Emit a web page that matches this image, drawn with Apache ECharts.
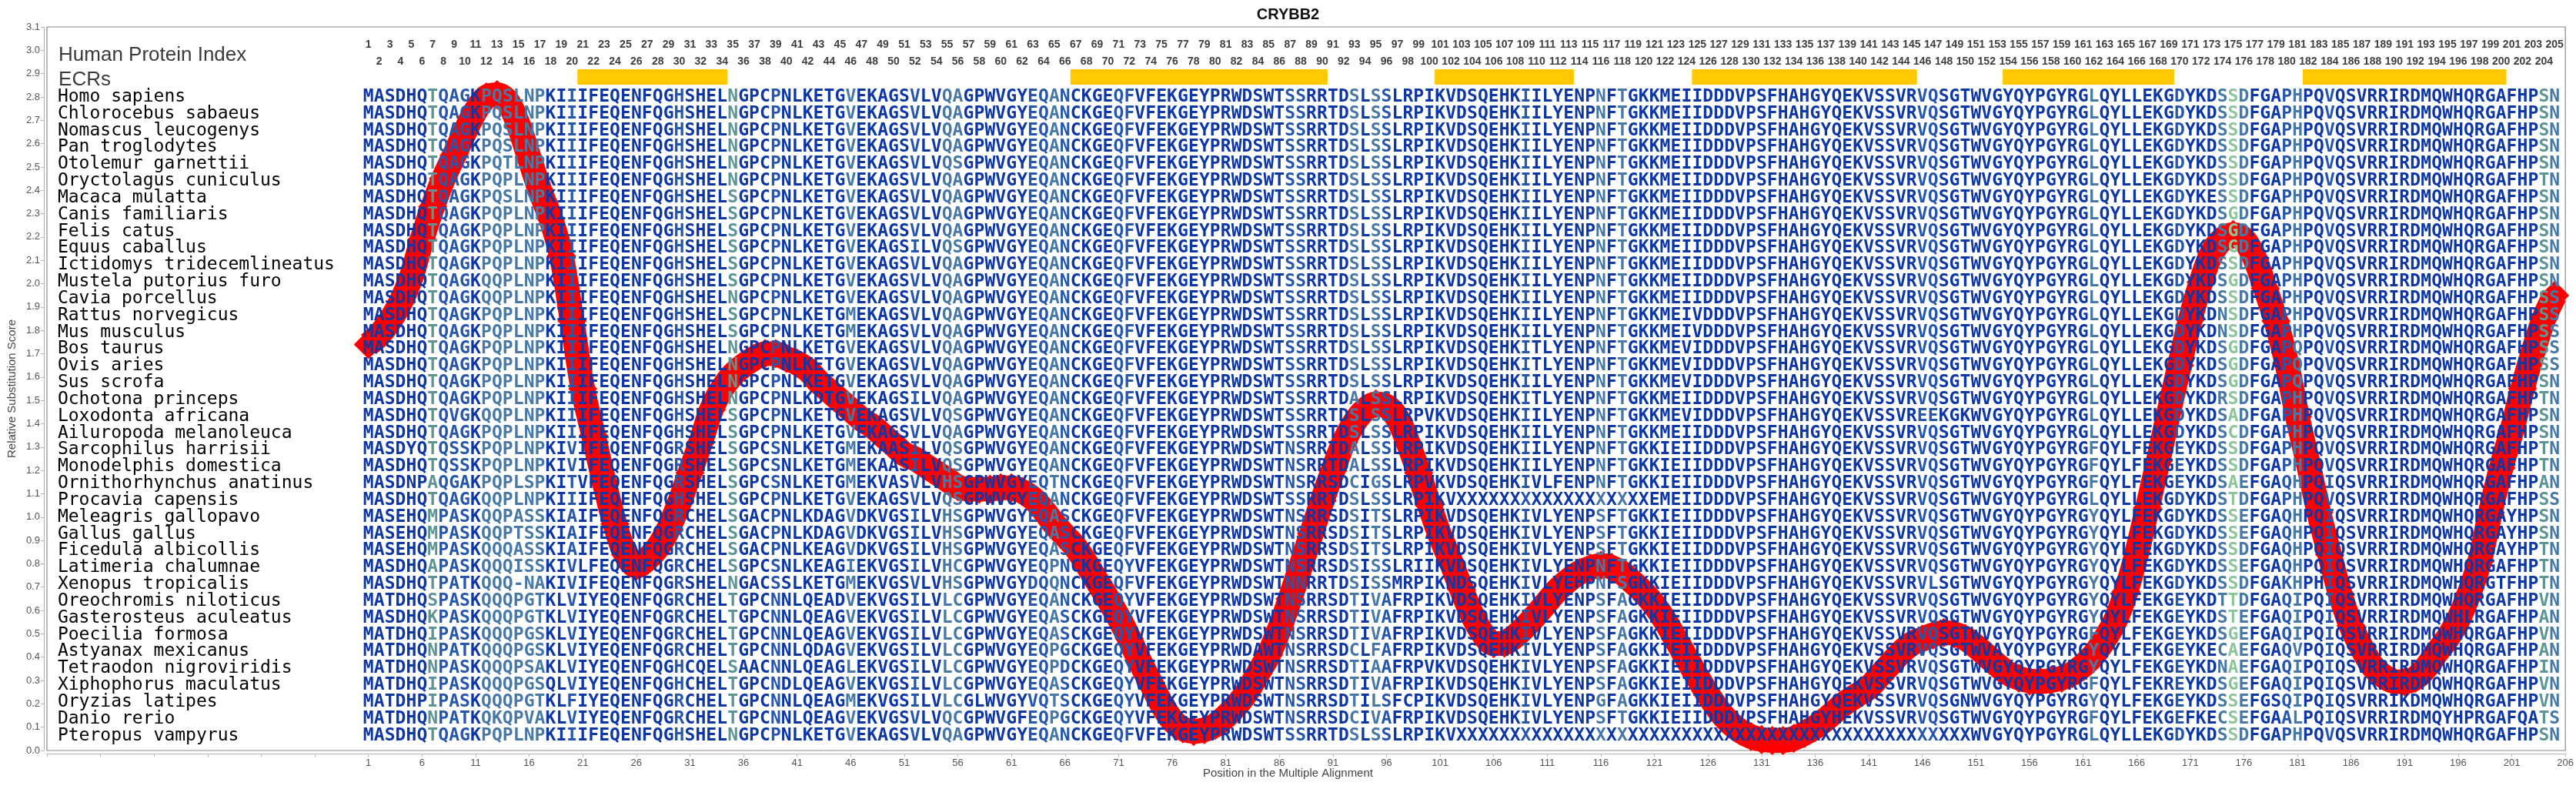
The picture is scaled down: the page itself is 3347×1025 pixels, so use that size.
<!DOCTYPE html>
<html><head><meta charset="utf-8">
<script src="https://cdn.jsdelivr.net/npm/echarts@6/dist/echarts.min.js"></script>
<style>html,body{margin:0;padding:0;background:#fff}#chart{width:3347px;height:1025px}</style>
</head><body><div id="chart"></div>
<script>
// ---------------- DATA ----------------
const TITLE = "CRYBB2";
const SPECIES = ["Homo sapiens","Chlorocebus sabaeus","Nomascus leucogenys","Pan troglodytes","Otolemur garnettii","Oryctolagus cuniculus","Macaca mulatta","Canis familiaris","Felis catus","Equus caballus","Ictidomys tridecemlineatus","Mustela putorius furo","Cavia porcellus","Rattus norvegicus","Mus musculus","Bos taurus","Ovis aries","Sus scrofa","Ochotona princeps","Loxodonta africana","Ailuropoda melanoleuca","Sarcophilus harrisii","Monodelphis domestica","Ornithorhynchus anatinus","Procavia capensis","Meleagris gallopavo","Gallus gallus","Ficedula albicollis","Latimeria chalumnae","Xenopus tropicalis","Oreochromis niloticus","Gasterosteus aculeatus","Poecilia formosa","Astyanax mexicanus","Tetraodon nigroviridis","Xiphophorus maculatus","Oryzias latipes","Danio rerio","Pteropus vampyrus"];

// alignment rows, residues 1-205, written in blocks 1-34 | 35-68 | 69-102 | 103-137 | 138-172 | 173-205
const ALIGNMENT_BLOCKS = [
["MASDHQTQAGKPQSLNPKIIIFEQENFQGHSHEL","NGPCPNLKETGVEKAGSVLVQAGPWVGYEQANCK","GEQFVFEKGEYPRWDSWTSSRRTDSLSSLRPIKV","DSQEHKIILYENPNFTGKKMEIIDDDVPSFHAHGY","QEKVSSVRVQSGTWVGYQYPGYRGLQYLLEKGDYK","DSSDFGAPHPQVQSVRRIRDMQWHQRGAFHPSN"],
["MASDHQTQAGKPQSLNPKIIIFEQENFQGHSHEL","NGPCPNLKETGVEKAGSVLVQAGPWVGYEQANCK","GEQFVFEKGEYPRWDSWTSSRRTDSLSSLRPIKV","DSQEHKIILYENPNFTGKKMEIIDDDVPSFHAHGY","QEKVSSVRVQSGTWVGYQYPGYRGLQYLLEKGDYK","DSSDFGAPHPQVQSVRRIRDMQWHQRGAFHPSN"],
["MASDHQTQAGKPQSLNPKIIIFEQENFQGHSHEL","NGPCPNLKETGVEKAGSVLVQAGPWVGYEQANCK","GEQFVFEKGEYPRWDSWTSSRRTDSLSSLRPIKV","DSQEHKIILYENPNFTGKKMEIIDDDVPSFHAHGY","QEKVSSVRVQSGTWVGYQYPGYRGLQYLLEKGDYK","DSSDFGAPHPQVQSVRRIRDMQWHQRGAFHPSN"],
["MASDHQTQAGKPQSLNPKIIIFEQENFQGHSHEL","NGPCPNLKETGVEKAGSVLVQAGPWVGYEQANCK","GEQFVFEKGEYPRWDSWTSSRRTDSLSSLRPIKV","DSQEHKIILYENPNFTGKKMEIIDDDVPSFHAHGY","QEKVSSVRVQSGTWVGYQYPGYRGLQYLLEKGDYK","DSSDFGAPHPQVQSVRRIRDMQWHQRGAFHPSN"],
["MASDHQTQAGKPQTLNPKIIIFEQENFQGHSHEL","NGPCPNLKETGVEKAGSVLVQSGPWVGYEQANCK","GEQFVFEKGEYPRWDSWTSSRRTDSLSSLRPIKV","DSQEHKIILYENPNFTGKKMEIIDDDVPSFHAHGY","QEKVSSVRVQSGTWVGYQYPGYRGLQYLLEKGDYK","DSSDFGAPHPQVQSVRRIRDMQWHQRGAFHPSN"],
["MASDHQTQAGKPQPLNPKIIIFEQENFQGHSHEL","NGPCPNLKETGVEKAGSVLVQAGPWVGYEQANCK","GEQFVFEKGEYPRWDSWTSSRRTDSLSSLRPIKV","DSQEHKIILYENPNFTGKKMEIIDDDVPSFHAHGY","QEKVSSVRVQSGTWVGYQYPGYRGLQYLLEKGDYK","DSSDFGAPHPQVQSVRRIRDMQWHQRGAFHPTN"],
["MASDHQTQAGKPQSLNPKIIIFEQENFQGHSHEL","SGPCPNLKETGVEKAGSVLVQAGPWVGYEQANCK","GEQFVFEKGEYPRWDSWTSSRRTDSLSSLRPIKV","DSQEHKIILYENPNFTGKKMEIIDDDVPSFHAHGY","QEKVSSVRVQSGTWVGYQYPGYRGLQYLLEKGDYK","ESSDFGAPHPQVQSVRRIRDMQWHQRGAFHPSN"],
["MASDHQTQAGKPQPLNPKIIIFEQENFQGHSHEL","SGPCPNLKETGVEKAGSVLVQAGPWVGYEQANCK","GEQFVFEKGEYPRWDSWTSSRRTDSLSSLRPIKV","DSQEHKIILYENPNFTGKKMEIIDDDVPSFHAHGY","QEKVSSVRVQSGTWVGYQYPGYRGLQYLLEKGDYK","DSGDFGAPHPQVQSVRRIRDMQWHQRGAFHPSN"],
["MASDHQTQAGKPQPLNPKIIIFEQENFQGHSHEL","SGPCPNLKETGVEKAGSVLVQAGPWVGYEQANCK","GEQFVFEKGEYPRWDSWTSSRRTDSLSSLRPIKV","DSQEHKIILYENPNFTGKKMEIIDDDVPSFHAHGY","QEKVSSVRVQSGTWVGYQYPGYRGLQYLLEKGDYK","DSGDFGAPHPQVQSVRRIRDMQWHQRGAFHPSN"],
["MASDHQTQAGKPQPLNPKIIIFEQENFQGHSHEL","SGPCPNLKETGVEKAGSILVQSGPWVGYEQANCK","GEQFVFEKGEYPRWDSWTSSRRTDSLSSLRPIKV","DSQEHKIILYENPNFTGKKMEIIDDDVPSFHAHGY","QEKVSSVRVQSGTWVGYQYPGYRGLQYLLEKGDYK","DSGDFGAPHPQVQSVRRIRDMQWHQRGAFHPSN"],
["MASDHQTQAGKPQPLNPKIIIFEQENFQGHSHEL","SGPCPNLKETGVEKAGSVLVQAGPWVGYEQANCK","GEQFVFEKGEYPRWDSWTSSRRTDSLSSLRPIKV","DSQEHKIILYENPNFTGKKMEIIDDDVPSFHAHGY","QEKVSSVRVQSGTWVGYQYPGYRGLQYLLEKGDYK","DSSDFGAPHPQVQSVRRIRDMQWHQRGAFHPSN"],
["MASDHQTQAGKQQPLNPKIIIFEQENFQGHSHEL","SGPCPNLKETGVEKAGSVLVQAGPWVGYEQANCK","GEQFVFEKGEYPRWDSWTSSRRTDSLSSLRPIKV","DSQEHKIILYENPNFTGKKMEIIDDDVPSFHAHGY","QEKVSSVRVQSGTWVGYQYPGYRGLQYLLEKGDYK","DSGDFGAPHPQVQSVRRIRDMQWHQRGAFHPSN"],
["MASDHQTQAGKQQPLNPKIIIFEQENFQGHSHEL","NGPCPNLKETGVEKAGSVLVQAGPWVGYEQANCK","GEQFVFEKGEYPRWDSWTSSRRTDSLSSLRPIKV","DSQEHKIILYENPNFTGKKMEIIDDDVPSFHAHGY","QEKVSSVRVQSGTWVGYQYPGYRGLQYLLEKGDYK","DSSDFGAPHPQVQSVRRIRDMQWHQRGAFHPSS"],
["MASDHQTQAGKPQPLNPKIIIFEQENFQGHSHEL","SGPCPNLKETGMEKAGSVLVQAGPWVGYEQANCK","GEQFVFEKGEYPRWDSWTSSRRTDSLSSLRPIKV","DSQEHKIILYENPNFTGKKMEIVDDDVPSFHAHGY","QEKVSSVRVQSGTWVGYQYPGYRGLQYLLEKGDYK","DNSDFGAPHPQVQSVRRIRDMQWHQRGAFHPSS"],
["MASDHQTQAGKPQPLNPKIIIFEQENFQGHSHEL","SGPCPNLKETGMEKAGSVLVQAGPWVGYEQANCK","GEQFVFEKGEYPRWDSWTSSRRTDSLSSLRPIKV","DSQEHKIILYENPNFTGKKMEIVDDDVPSFHAHGY","QEKVSSVRVQSGTWVGYQYPGYRGLQYLLEKGDYK","DNSDFGAPHPQVQSVRRIRDMQWHQRGAFHPSS"],
["MASDHQTQAGKPQPLNPKIIIFEQENFQGHSHEL","NGPCPNLKETGVEKAGSVLVQAGPWVGYEQANCK","GEQFVFEKGEYPRWDSWTSSRRTDSLSSLRPIKV","DSQEHKITLYENPNFTGKKMEVIDDDVPSFHAHGY","QEKVSSVRVQSGTWVGYQYPGYRGLQYLLEKGDYK","DSGDFGAPQPQVQSVRRIRDMQWHQRGAFHPSS"],
["MASDHQTQAGKPQPLNPKIIIFEQENFQGHSHEL","NGPCPNLKETGVEKAGSVLVQAGPWVGYEQANCK","GEQFVFEKGEYPRWDSWTSSRRTDSLSSLRPIKV","DSQEHKITLYENPNFTGKKMEVIDDDVPSFHAHGY","QEKVSSVRVQSGTWVGYQYPGYRGLQYLLEKGDYK","DSGDFGAPQPQVQSVRRIRDMQWHQRGAFHPSS"],
["MASDHQTQAGKPQPLNPKIIIFEQENFQGHSHEL","NGPCPNLKETGVEKAGSVLVQAGPWVGYEQANCK","GEQFVFEKGEYPRWDSWTSSRRTDSLSSLRPIKV","DSQEHKIILYENPNFTGKKMEVIDDDVPSFHAHGY","QEKVSSVRVQSGTWVGYQYPGYRGLQYLLEKGDYK","DSGDFGAPQPQVQSVRRIRDMQWHQRGAFHPSN"],
["MASDHQTQAGKPQPLNPKIIIFEQENFQGHSHEL","NGPCPNLKDTGVEKAGSILVQAGPWVGYEQANCK","GEQFVFEKGEYPRWDSWTSSRRTDALSSLRPIKV","DSQEHKITLYENPNFTGKKMEIIDDDVPSFHAHGY","QEKVSSVRVQSGTWVGYQYPGYRGLQYLLEKGDYK","DRSDFGAPHPQVQSVRRIRDMQWHQRGAFHPTN"],
["MASDHQTQVGKQQPLNPKIIIFEQENFQGHSHEL","SGPCPNLKETGVEKAGSVLVQSGPWVGYEQANCK","GEQFVFEKGEYPRWDSWTSSRRTDSLSSLRPVKV","DSQEHKIILYENPNFTGKKMEVIDDDVPSFHAHGY","QEKVSSVREEKGKWVGYQYPGYRGLQYLLEKGDYK","DSADFGAPHPQVQSVRRIRDMQWHQRGAFHPSN"],
["MASDHQTQAGKPQPLNPKIIIFEQENFQGHSHEL","SGPCPNLKETGVEKAGSVLVQAGPWVGYEQANCK","GEQFVFEKGEYPRWDSWTSSRRTDSLSSLRPIKV","DSQEHKIILYENPNFTGKKMEIIDDDVPSFHAHGY","QEKVSSVRVQSGTWVGYQYPGYRGLQYLLEKGDYK","DSCDFGAPHPQVQSVRRIRDMQWHQRGAFHPSN"],
["MASDYQTQSSKPQPLNPKIVIFEQENFQGRSHEL","SGPCSNLKETGMEKAASILVQSGPWVGYEQANCK","GEQFVFEKGEYPRWDSWTNSRRTDALSSLRPIKV","DSQEHKIILYENPNFTGKKIEIIDDDVPSFHAHGY","QEKVSSVRVQSGTWVGYQYPGYRGFQYLFEKGEYK","DSSDFGAPHPQVQSVRRIRDMQWHQRGAFHPTN"],
["MASDHQTQSSKPQPLNPKIVIFEQENFQGRSHEL","SGPCSNLKETGMEKAASILVQSGPWVGYEQANCK","GEQFVFEKGEYPRWDSWTNSRRTDALSSLRPIKV","DSQEHKIILYENPNFTGKKIEIIDDDVPSFHAHGY","QEKVSSVRVQSGTWVGYQYPGYRGFQYLFEKGEYK","DSSDFGAPHPQVQSVRRIRDMQWHQRGAFHPTN"],
["MASDNPAQGAKPQPLSPKITVFEQENFQGRSHEL","SGPCSNLKETGMEKVASVLVHSGPWVGYEQTNCK","GEQFVFEKGEYPRWDSWTNSRRSDCIGSLRPVKV","DSQEHKIVLFENPNFTGKKIEIIDDDVPSFHAHGY","QEKVSSVRVQSGTWVGYQYPGYRGFQYLFEKGEYK","DSAEFGAQHPQIQSVRRIRDMQWHQRGAFHPAN"],
["MASDHQTQAGKQQPLNPKIIIFEQENFQGHSHEL","SGPCPNLKETGVEKAGSVLVQSGPWVGYEQANCK","GEQFVFEKGEYPRWDSWTSSRRTDSLSSLRPIKV","XXXXXXXXXXXXXXXXXXEMEIIDDDVPSFHAHGY","QEKVSSVRVQSGTWVGYQYPGYRGLQYLLEKGDYK","DSTDFGAPHPQVQSVRRIRDMQWHQRGAFHPSS"],
["MASEHQMPASKQQPASSKIAIFEQENFQGRCHEL","SGACPNLKDAGVDKVGSILVHSGPWVGYEQASCK","GEQFVFEKGEYPRWDSWTNSRRSDSITSLRPIKV","DSQEHKIVLYENPSFTGKKIEIIDDDVPSFHAHGY","QEKVSSVRVQSGTWVGYQYPGYRGYQYLFEKGDYK","DSSEFGAQHPQIQSVRRIRDMQWHQRGAYHPSN"],
["MASEHQMPASKQQPTSSKIAIFEQENFQGRCHEL","SGACPNLKDAGVDKVGSILVHSGPWVGYEQASCK","GEQFVFEKGEYPRWDSWTNSRRSDSITSLRPIKV","DSQEHKIVLYENPSFTGKKIEIIDDDVPSFHAHGY","QEKVSSVRVQSGTWVGYQYPGYRGYQYLFEKGDYK","DSSEFGAQHPQIQSVRRIRDMQWHQRGAYHPSN"],
["MASEHQMPASKQQQASSKIAIFEQENFQGRCHEL","SGACPNLKEAGVDKVGSILVHSGPWVGYEQASCK","GEQFVFEKGEYPRWDSWTNSRRSDSITSLRPIKV","DSQEHKIVLYENPSFTGKKIEIIDDDVPSFHAHGY","QEKVSSVRVQSGTWVGYQYPGYRGYQYLFEKGDYK","DSSDFGAQHPQIQSVRRIRDMQWHQRGAYHPTN"],
["MASDHQAPASKQQQISSKIVLFEQENFQGRCHEL","SGPCSNLKEAGIEKVGSILVHCGPWVGYEQPNCK","GEQYVFEKGEYPRWDSWTNSRRSDSISSLRIIKV","DSQEHKIVLYENPNFTGKKIEIIDDDVPSFHAHGY","QEKVSSVRVQSGTWVGYQYPGYRGYQYLFEKGDYK","DSSEFGAQHPQIQSVRRIRDMQWHQRGAFHPTN"],
["MASDHQTPATKQQQ-NAKIVIFEQENFQGRSHEL","NGACSSLKETGMEKVGSVLVHSGPWVGYDQQNCK","GEQFVFEKGEYPRWDSWTNNRRTDSISSMRPIKN","DSQEHKIVLYEHPNFSGKKIEIIDDDVPSFHAHGY","QEKVSSVRVLSGTWVGYQYPGYRGYQYLFEKGDYK","DSSDFGAKHPHIQSVRRIRDMQWHQRGTFHPTN"],
["MATDHQSPASKQQQPGTKLVIYEQENFQGRCHEL","TGPCNNLQEADVEKVGSILVLCGPWVGYEQANCK","GEQYVFEKGEYPRWDSWTNSRRSDTIVAFRPIKV","DSQEHKIVLYENPSFAGKKIEIIDDDVPSFHAHGY","QEKVSSVRVQSGTWVGYQYPGYRGYQYLFEKGEYK","DTTDFGAQIPQIQSVRRIRDMQWHQRGAFHPVN"],
["MASDHQKPASKQQQPGTKLVIYEQENFQGRCHEL","TGPCNNLQEAGVEKVGSILVLCGPWVGYEQASCK","GEQYVFEKGEYPRWDSWTNSRRSDTIVAFRPIKV","DSQEHKIVLYENPSFAGKKIEIIDDDVPSFHAHGY","QEKVSSVRVQSGTWVGYQYPGYRGYQYLFEKGEYK","DSTEFGAQIPQIQSVRRIRDMQWHLRGAFHPAN"],
["MATDHQIPASKQQQPGSKLVIYEQENFQGRCHEL","TGPCNNLQEAGVEKVGSILVLCGPWVGYEQASCK","GEQYVFEKGEYPRWDSWTNSRRSDTIVAFRPIKV","DSQEHKIVLYENPSFAGKKIEIIDDDVPSFHAHGY","QEKVSSVRVQSGTWVGYQYPGYRGFQYLFEKGEYK","DSGEFGAQIPQIQSVRRIRDMQWHQRGAFHPVN"],
["MATDHQNPATKQQQPGSKLVIYEQENFQGRCHEL","TGPCNNLQDAGVEKVGSILVLCGPWVGYEQPGCK","GEQYVFEKGEYPRWDAWTNSRRSDCLFAFRPIKV","DSQEHKIVLYENPSFAGKKIEIIDDDVPSFHAHGY","QEKVSSVRVQSGTWVAYQYPGYRGYQYLFEKGEYK","ECAEFGAQVPQIQSVRRIRDMQWHQRGAFHPAN"],
["MATDHQNPASKQQQPSAKLVIYEQENFQGHCQEL","SAACNNLQEAGLEKVGSILVLCGPWVGYEQPDCK","GEQYVFEKGEYPRWDSWTNSRRSDTIAAFRPVKV","DSQEHKIVLYENPSFAGKKIEIIDDDVPSFHAHGY","QEKVSSVRVQSGTWVGYQYPGYRGYQYLFEKGEYK","DNAEFGAQIPQIQSVRRIRDMQWHQRGAFHPIN"],
["MATDHQIPASKQQQPGSQLVIYEQENFQGHCHEL","TGPCNDLQEAGVEKVGSILVLCGPWVGYEQASCK","GEQYVFEKGEYPRWDSWTNSRRSDTIVAFRPIKV","DSQEHKIVLYENPSFAGKKIEIIDDDVPSFHAHGY","QEKVSSVRVQSGTWVGYQYPGYRGFQYLFEKREYK","DSGEFGAQIPQIQSVRRIRDMQWHQRGAFHPVN"],
["MATDHPIPASKQQQPGTKLFIYEQENFQGRCHEL","TGPCNNLQEAGMEKVGSILVLCGLWVGYVQTSCK","GEQYVFEKGEYPRWDSWTNSRRSDTILSFCPIKV","DSQEHKIVLYENPGFAGKKIEIIDDDVPSFHAHGY","QEKVSSVRVQSGNWVGYQYPGYRGYQYLFEKGEYK","DSSEFGSQIPQIQSVRRIKDMQWHQRGAFHPVN"],
["MATDHQNPATKQKQPVAKLVIYEQENFQGRCHEL","TGPCNNLQEAGVEKVGSVLVQCGPWVGFEQPGCK","GEQYVFEKGEYPRWDSWTNSRRSDCIVAFRPIKV","DSQEHKIVLYENPSFTGKKIEIIDDDVPSFHAHGY","HEKVSSVRVQSGTWVGYQYPGYRGFQYLFEKGEFK","ECSEFGAALPQIQSVRRIRDMQYHPRGAFQATS"],
["MASDHQTQAGKPQPLNPKIIIFEQENFQGHSHEL","NGPCPNLKETGVEKAGSVLVQAGPWVGYEQANCK","GEQFVFEKGEYPRWDSWTSSRRTDSLSSLRPIKV","XXXXXXXXXXXXXXXXXXXXXXXXXXXXXXXXXXX","XXXXXXXXXXXXXWVGYQYPGYRGLQYLLEKGDYK","DSSDFGAPHPQVQSVRRIRDMQWHQRGAFHPSN"]
];

// column shading (0 = conserved navy ... 4 = light green), columns 1-205
const COLUMN_SHADE = "0000003111" + "0222222001" + "0000000001" + "0000300010" + "0000020000" +
  "0100220000" + "0011210000" + "1100000000" + "0000001100" + "0020210000" +
  "0000000010" + "0000020200" + "0000000000" + "0000000000" + "0000011000" +
  "0000000000" + "0200000001" + "0002420001" + "2001000000" + "0000000000" + "00032";
const SHADE_COLORS = ["#0d37a6", "#2657ad", "#4878a6", "#5c9594", "#8fc49b"];

// relative substitution score at alignment positions 1..205
const SUBSTITUTION_SCORE = [
1.74,1.78,1.84,1.92,2.03,2.19,2.33,2.45,2.55,2.65,
2.74,2.80,2.81,2.78,2.68,2.54,2.40,2.28,2.12,1.84,
1.55,1.35,1.15,0.97,0.84,0.79,0.82,0.87,0.95,1.06,
1.19,1.32,1.46,1.55,1.61,1.65,1.68,1.70,1.70,1.68,
1.66,1.63,1.58,1.54,1.50,1.46,1.42,1.39,1.35,1.31,
1.27,1.25,1.22,1.19,1.16,1.13,1.12,1.12,1.12,1.125,
1.125,1.11,1.08,1.03,0.97,0.92,0.87,0.80,0.725,0.65,
0.57,0.48,0.38,0.29,0.20,0.13,0.093,0.082,0.089,0.108,
0.146,0.193,0.252,0.33,0.41,0.52,0.65,0.79,0.93,1.07,
1.20,1.32,1.405,1.46,1.485,1.475,1.425,1.32,1.19,1.05,
0.92,0.81,0.69,0.58,0.50,0.458,0.46,0.49,0.533,0.583,
0.637,0.69,0.73,0.762,0.782,0.793,0.785,0.76,0.72,0.677,
0.623,0.556,0.476,0.396,0.316,0.24,0.173,0.12,0.084,0.06,
0.047,0.043,0.043,0.052,0.073,0.10,0.134,0.174,0.21,0.24,
0.27,0.32,0.37,0.42,0.457,0.477,0.495,0.505,0.50,0.48,
0.446,0.406,0.366,0.33,0.31,0.298,0.295,0.30,0.31,0.33,
0.364,0.41,0.475,0.556,0.68,0.845,1.04,1.24,1.45,1.65,
1.845,2.007,2.13,2.19,2.21,2.19,2.11,1.98,1.84,1.66,
1.43,1.23,1.02,0.84,0.67,0.534,0.44,0.362,0.32,0.296,
0.294,0.31,0.355,0.42,0.48,0.56,0.67,0.81,1.02,1.21,
1.37,1.55,1.71,1.85,1.95
];

// evolutionarily conserved regions (alignment positions, inclusive)
const ECR_START = [21, 67, 101, 125, 154, 182];
const ECR_END   = [34, 90, 113, 145, 169, 200];

const HEADER_LABELS = ["Human Protein Index", "ECRs"];
const X_AXIS_NAME = "Position in the Multiple Alignment";
const Y_AXIS_NAME = "Relative Substitution Score";

// ---------------- LAYOUT (data-space anchors) ----------------
const X_SHIFT = 29;          // axis coordinate = position + 29 (axis starts at position -29)
const ROW_TOP = 2.8, ROW_STEP = 0.072;
const ODD_NUM_Y = 3.025, EVEN_NUM_Y = 2.952, ECR_Y = 2.886;
const HEADER_Y = [2.98, 2.873];

const ALIGNMENT = ALIGNMENT_BLOCKS.map(b => b.join(''));

const seqData = [];
ALIGNMENT.forEach((s, r) => {
  for (let c = 0; c < s.length; c++) seqData.push([c + 1 + X_SHIFT, ROW_TOP - r * ROW_STEP, r, c]);
});
const nameData = SPECIES.map((n, r) => [1, ROW_TOP - r * ROW_STEP, r]);
const headerData = HEADER_LABELS.map((t, i) => [1.08, HEADER_Y[i], i]);
const numData = [];
for (let c = 1; c <= ALIGNMENT[0].length; c++) numData.push([c + X_SHIFT, c % 2 ? ODD_NUM_Y : EVEN_NUM_Y, c]);
const ecrData = ECR_START.map((s, i) => [s - 0.5 + X_SHIFT, ECR_END[i] + 0.5 + X_SHIFT, ECR_Y]);
const curveData = SUBSTITUTION_SCORE.map((v, i) => [i + 1 + X_SHIFT, v]);

const SANS = '"Liberation Sans", Arial, sans-serif';
const MONO = '"DejaVu Sans Mono", monospace';

const chart = echarts.init(document.getElementById('chart'), null, {renderer: 'canvas'});
chart.setOption({
  animation: false,
  backgroundColor: '#ffffff',
  title: {
    text: TITLE, left: 'center', top: 4,
    textStyle: {fontSize: 20, fontWeight: 'bold', fontFamily: SANS, color: '#111'}
  },
  graphic: [{
    type: 'text', left: 'center', top: 997,
    style: {text: X_AXIS_NAME, font: '15px ' + SANS, fill: '#444'}
  }],
  grid: {left: 61, top: 35, right: 11, bottom: 50, show: true, borderColor: '#8a8a8a', borderWidth: 1.2, containLabel: false},
  xAxis: {
    type: 'value', min: 0, max: 235, interval: 5, offset: 4,
    axisLine: {show: true, onZero: false, lineStyle: {color: '#b5b5b5', width: 1.2}},
    axisTick: {show: true, length: 4, lineStyle: {color: '#b5b5b5'}},
    axisLabel: {formatter: v => (v - X_SHIFT >= 1 ? String(v - X_SHIFT) : ''), color: '#555', fontSize: 13, fontFamily: SANS, margin: 6},
    splitLine: {show: false}
  },
  yAxis: {
    type: 'value', min: 0, max: 3.1, interval: 0.1, offset: 4,
    name: Y_AXIS_NAME, nameLocation: 'middle', nameGap: 30,
    nameTextStyle: {fontSize: 15, color: '#444', fontFamily: SANS},
    axisLine: {show: true, onZero: false, lineStyle: {color: '#b5b5b5', width: 1.2}},
    axisTick: {show: true, length: 4, lineStyle: {color: '#b5b5b5'}},
    axisLabel: {formatter: v => v.toFixed(1), color: '#555', fontSize: 13, fontFamily: SANS, margin: 5},
    splitLine: {show: false}
  },
  series: [
    {
      type: 'line', data: curveData, smooth: 0.35, clip: false,
      symbol: 'diamond', symbolSize: 38, showAllSymbol: true,
      itemStyle: {color: '#ff0000', borderWidth: 0}, lineStyle: {color: '#ff0000', width: 32},
      z: 2, silent: true
    },
    {
      type: 'custom', data: ecrData, encode: {x: [0, 1], y: 2}, z: 2, silent: true, clip: false,
      renderItem: (params, api) => {
        const a = api.coord([api.value(0), api.value(2)]);
        const b = api.coord([api.value(1), api.value(2)]);
        return {type: 'rect', shape: {x: a[0], y: a[1] - 10, width: b[0] - a[0], height: 20}, style: {fill: '#ffc800'}};
      }
    },
    {
      type: 'custom', data: seqData, encode: {x: 0, y: 1}, z: 5, silent: true, clip: false, progressive: 0,
      renderItem: (params, api) => {
        const p = api.coord([api.value(0), api.value(1)]);
        const r = api.value(2), c = api.value(3);
        return {type: 'text', x: p[0], y: p[1], style: {
          text: ALIGNMENT[r][c], fill: SHADE_COLORS[+COLUMN_SHADE[c]],
          font: 'bold 23px ' + MONO, align: 'center', verticalAlign: 'middle'}};
      }
    },
    {
      type: 'custom', data: nameData, encode: {x: 0, y: 1}, z: 5, silent: true, clip: false,
      renderItem: (params, api) => {
        const p = api.coord([api.value(0), api.value(1)]);
        return {type: 'text', x: p[0], y: p[1], style: {
          text: SPECIES[api.value(2)], fill: '#000', font: '23px ' + MONO, align: 'left', verticalAlign: 'middle'}};
      }
    },
    {
      type: 'custom', data: headerData, encode: {x: 0, y: 1}, z: 5, silent: true, clip: false,
      renderItem: (params, api) => {
        const p = api.coord([api.value(0), api.value(1)]);
        return {type: 'text', x: p[0], y: p[1], style: {
          text: HEADER_LABELS[api.value(2)], fill: '#3a3a3a', font: '26px ' + SANS, align: 'left', verticalAlign: 'middle'}};
      }
    },
    {
      type: 'custom', data: numData, encode: {x: 0, y: 1}, z: 5, silent: true, clip: false, progressive: 0,
      renderItem: (params, api) => {
        const p = api.coord([api.value(0), api.value(1)]);
        return {type: 'text', x: p[0], y: p[1], style: {
          text: String(api.value(2)), fill: '#404040', font: 'bold 14px ' + SANS, align: 'center', verticalAlign: 'middle'}};
      }
    }
  ]
});
</script></body></html>
